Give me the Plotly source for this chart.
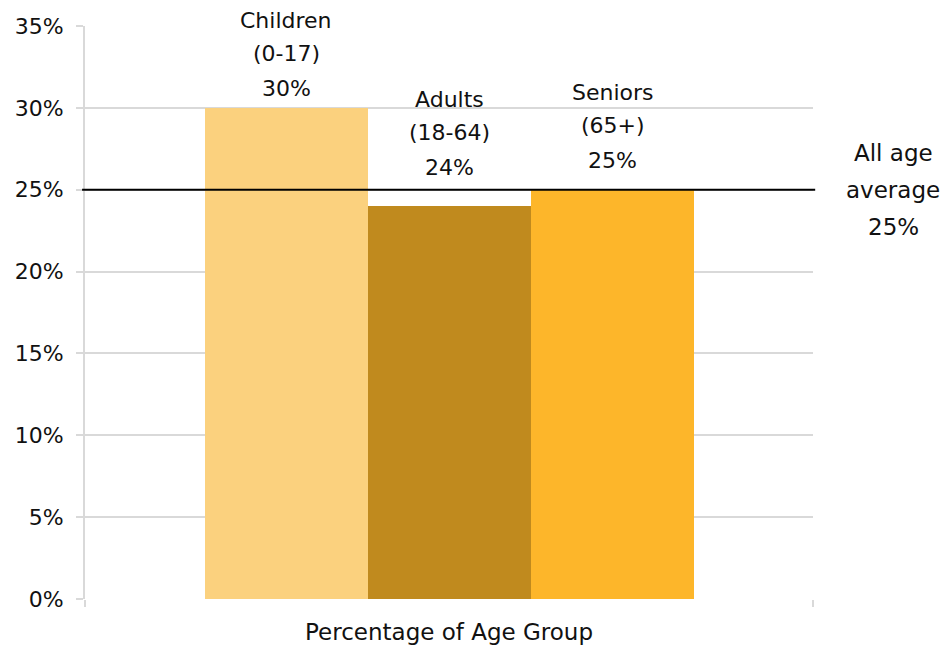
import plotly.graph_objects as go

groups = ["Children", "Adults", "Seniors"]
ranges = ["(0-17)", "(18-64)", "(65+)"]
values = [30, 24, 25]
value_labels = ["30%", "24%", "25%"]
average = 25
average_label = ["All age", "average", "25%"]
y_ticks = [0, 5, 10, 15, 20, 25, 30, 35]
y_tick_labels = ["0%", "5%", "10%", "15%", "20%", "25%", "30%", "35%"]
x_title = "Percentage of Age Group"

colors = ["#FBD17E", "#C08A1E", "#FDB62A"]
value_shift = [19, 39, 29]

FONT = "DejaVu Sans"
GRID = "#D9D9D9"

x_pos = list(range(len(groups)))

fig = go.Figure()
fig.add_trace(go.Bar(
    x=x_pos, y=values, width=1.0,
    marker=dict(color=colors, line=dict(width=0)),
    hoverinfo="skip", showlegend=False,
))

annotations = []
for i, g in enumerate(groups):
    s = value_shift[i]
    for txt, shift in [(value_labels[i], s), (ranges[i], s + 35), (g, s + 68)]:
        annotations.append(dict(
            x=x_pos[i], y=values[i], xref="x", yref="y",
            text=txt, showarrow=False, yanchor="middle", xanchor="center",
            yshift=shift, font=dict(family=FONT, size=22, color="#111111"),
        ))
for k, txt in enumerate(average_label):
    annotations.append(dict(
        x=1.11, y=average, xref="paper", yref="y",
        text=txt, showarrow=False, yanchor="middle", xanchor="center",
        yshift=37 - 37 * k, font=dict(family=FONT, size=23, color="#111111"),
    ))

fig.add_shape(type="line", xref="paper", yref="y",
              x0=-0.004, x1=1.003, y0=average, y1=average,
              line=dict(color="#000000", width=2))

xr = [-1.236, 3.23]
fig.update_layout(
    width=942, height=638,
    margin=dict(l=77, r=137, t=18, b=47),
    paper_bgcolor="white", plot_bgcolor="white",
    font=dict(family=FONT, size=21, color="#111111"),
    annotations=annotations,
    bargap=0,
    xaxis=dict(
        range=xr, tickvals=xr, ticktext=["", ""],
        ticks="outside", ticklen=7, tickwidth=2, tickcolor=GRID,
        showgrid=False, zeroline=False, showline=False, automargin=False,
        title=dict(text=x_title, font=dict(family=FONT, size=23, color="#111111"), standoff=13),
        fixedrange=True,
    ),
    yaxis=dict(
        range=[0, 35], tickvals=y_ticks, ticktext=y_tick_labels,
        ticks="outside", ticklen=7, tickwidth=2, tickcolor=GRID,
        ticklabelstandoff=8, automargin=False,
        showgrid=True, gridcolor=GRID, gridwidth=2,
        showline=True, linecolor=GRID, linewidth=2,
        zeroline=False, tickfont=dict(family=FONT, size=22, color="#111111"),
        fixedrange=True,
    ),
)
fig.write_html("out.html")
